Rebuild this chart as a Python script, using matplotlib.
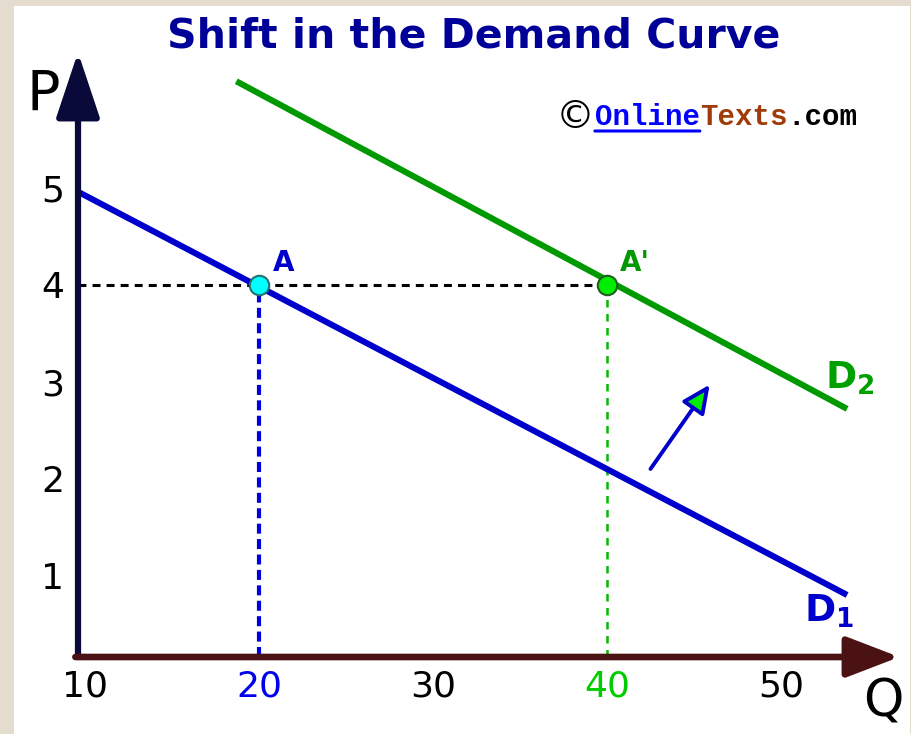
import matplotlib.pyplot as plt

# demand curves (Q, P) end points
d1_q = [9.6, 53.8]
d1_p = [4.96, 0.80]
d2_q = [18.7, 53.8]
d2_p = [6.10, 2.72]

# equilibrium points
pt_q = [20, 40]
pt_p = [4, 4]
pt_names = ['A', "A'"]

# shift arrow
shift_from = (42.5, 2.10)
shift_to = (45.9, 2.97)

xticks = [10, 20, 30, 40, 50]
yticks = [1, 2, 3, 4, 5]

q_min, q_max = 9.6, 56.8
p_min, p_max = 0.16, 6.40

W, H = 911, 734
fig = plt.figure(figsize=(W / 100, H / 100), dpi=100, facecolor='#e4dccf')

# white card
bg = fig.add_axes([14 / W, 0, (W - 15) / W, (H - 6) / H])
bg.set_facecolor('white')
bg.set_xticks([])
bg.set_yticks([])
for s in bg.spines.values():
    s.set_visible(False)

# main axes: x pixel 78 -> Q=9.6, y pixel 657 -> P=0.16
x0 = 78
x1 = 85 + (q_max - 10) * 17.4
y0 = 657
y1 = 285 - (p_max - 4) * 97
ax = fig.add_axes([x0 / W, (H - y0) / H, (x1 - x0) / W, (y0 - y1) / H])
ax.set_xlim(q_min, q_max)
ax.set_ylim(p_min, p_max)
ax.patch.set_alpha(0)
for s in ax.spines.values():
    s.set_visible(False)

# guide lines
ax.plot([q_min, pt_q[1]], [pt_p[1], pt_p[1]], color='black', lw=2.2,
        linestyle=(0, (2.6, 2.0)), zorder=2)
ax.plot([pt_q[0], pt_q[0]], [p_min, pt_p[0]], color='#0000dd', lw=3.0,
        linestyle=(0, (2.4, 1.3)), zorder=2)
ax.plot([pt_q[1], pt_q[1]], [p_min, pt_p[1]], color='#00bb00', lw=1.8,
        linestyle=(0, (3.0, 2.6)), zorder=2)

# demand curves
ax.plot(d1_q, d1_p, color='#0000cc', lw=4.4, solid_capstyle='butt', zorder=3)
ax.plot(d2_q, d2_p, color='#009900', lw=4.4, solid_capstyle='butt', zorder=3)

# points
ax.plot(pt_q[0], pt_p[0], 'o', ms=14, mfc='#00ffff', mec='#2a6e6e', mew=1.5, zorder=5)
ax.plot(pt_q[1], pt_p[1], 'o', ms=14, mfc='#00ee00', mec='#1f5f1f', mew=1.5, zorder=5)
ax.annotate(pt_names[0], (pt_q[0], pt_p[0]), xytext=(18, 16), textcoords='offset points',
            ha='center', va='center', fontsize=20, fontweight='bold', color='#0000cc')
ax.annotate(pt_names[1], (pt_q[1], pt_p[1]), xytext=(20, 16), textcoords='offset points',
            ha='center', va='center', fontsize=20, fontweight='bold', color='#009900')

# curve labels
ax.annotate(r'D$_{\mathbf{2}}$', (d2_q[1], d2_p[1]), xytext=(2, 22), textcoords='offset points',
            ha='center', va='center', fontsize=27, fontweight='bold', color='#00a000')
ax.annotate(r'D$_{\mathbf{1}}$', (d1_q[1], d1_p[1]), xytext=(-13, -12), textcoords='offset points',
            ha='center', va='center', fontsize=27, fontweight='bold', color='#0000cc')

# shift arrow
ax.annotate('', xy=shift_to, xytext=shift_from,
            arrowprops=dict(arrowstyle='-|>,head_length=0.9,head_width=0.42',
                            mutation_scale=19, lw=2.8, ec='#0000cc', fc='#00ee00',
                            shrinkA=0, shrinkB=0), zorder=4)

# axes with arrows
ax.annotate('', xy=(q_min, p_max), xytext=(q_min, p_min),
            arrowprops=dict(arrowstyle='-|>,head_length=1.5,head_width=0.5',
                            mutation_scale=27, lw=4.5, color='#0a0a3a',
                            shrinkA=0, shrinkB=0), annotation_clip=False, zorder=6)
ax.annotate('', xy=(q_max, p_min), xytext=(q_min - 0.15, p_min),
            arrowprops=dict(arrowstyle='-|>,head_length=1.3,head_width=0.5',
                            mutation_scale=25, lw=4.8, color='#4a1212',
                            shrinkA=0, shrinkB=0), annotation_clip=False, zorder=6)

ax.text(q_min, 5.96, 'P ', ha='right', va='center', fontsize=40, color='black')
ax.text(q_max - 0.9, p_min - 0.47, 'Q', ha='center', va='center', fontsize=37,
        color='black', clip_on=False)

# ticks
ax.set_xticks(xticks)
ax.set_xticklabels([str(v) for v in xticks], fontsize=26)
ax.set_yticks(yticks)
ax.set_yticklabels([str(v) for v in yticks], fontsize=26)
ax.tick_params(length=0, pad=10)
ax.tick_params(axis='x', pad=9)
tl = ax.get_xticklabels()
tl[1].set_color('#0000ee')
tl[3].set_color('#00cc00')

# title
fig.text(474 / W, 1 - 36 / H, 'Shift in the Demand Curve', ha='center', va='center',
         fontsize=29.5, fontweight='bold', color='#000099')

# copyright tag
c = fig.text(556 / W, 1 - 117 / H, '\u00a9', ha='left', va='center', fontsize=28,
             color='black')
t1 = ax.annotate('Online', xy=(1, 0.5), xycoords=c, va='center', ha='left',
                 fontsize=21, fontweight='bold', family='Liberation Mono', color='#0000ff')
t2 = ax.annotate('Texts', xy=(1, 0), xycoords=t1, va='bottom', ha='left',
                 fontsize=21, fontweight='bold', family='Liberation Mono', color='#a03c0a')
ax.annotate('.com', xy=(1, 0), xycoords=t2, va='bottom', ha='left',
            fontsize=21, fontweight='bold', family='Liberation Mono', color='black')
ax.annotate('', xy=(1, 0.0), xycoords=t1, xytext=(0, 0.0), textcoords=t1,
            arrowprops=dict(arrowstyle='-', color='#0000ff', lw=2.2,
                            shrinkA=0, shrinkB=0))

fig.savefig('out.png', dpi=100, facecolor=fig.get_facecolor())
